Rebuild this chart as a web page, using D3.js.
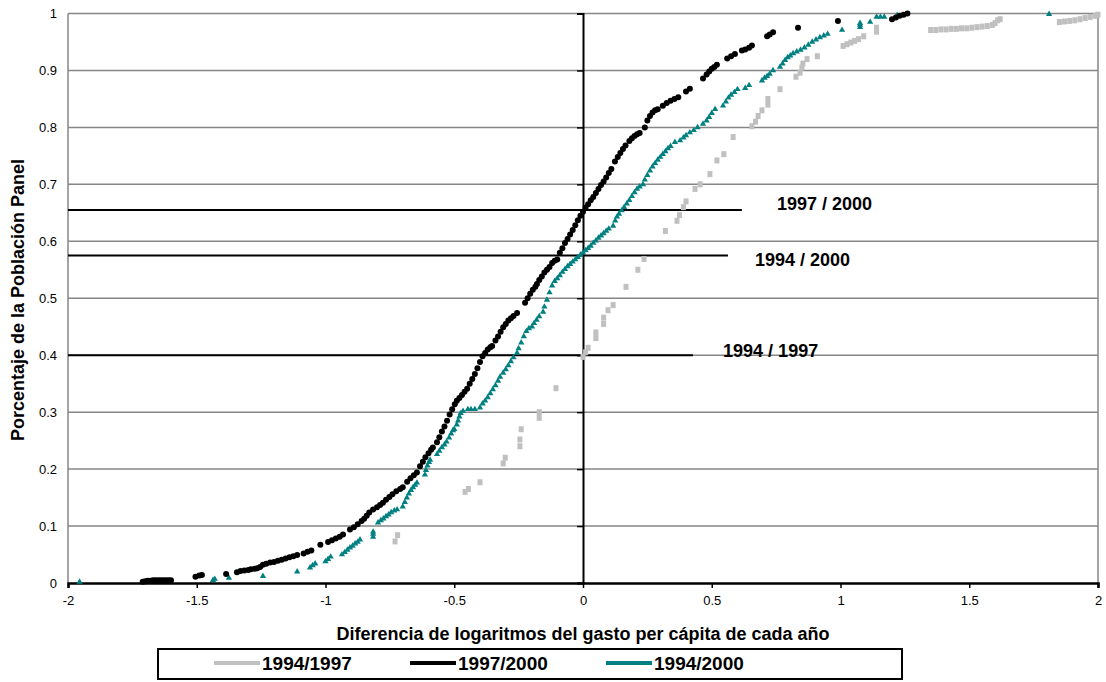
<!DOCTYPE html>
<html>
<head>
<meta charset="utf-8">
<script src="https://cdn.jsdelivr.net/npm/d3@7"></script>
<style>
  html, body { margin: 0; padding: 0; background: #fff; }
  svg { display: block; font-family: Arial, "Liberation Sans", sans-serif; }
</style>
</head>
<body>
<svg id="chart" width="1106" height="682"></svg>
<script>
// ---------- DATA ----------
const xTicks = [-2, -1.5, -1, -0.5, 0, 0.5, 1, 1.5, 2];
const xTickLabels = ["-2", "-1.5", "-1", "-0.5", "0", "0.5", "1", "1.5", "2"];
const yTicks = [0, 0.1, 0.2, 0.3, 0.4, 0.5, 0.6, 0.7, 0.8, 0.9, 1];
const yTickLabels = ["0", "0.1", "0.2", "0.3", "0.4", "0.5", "0.6", "0.7", "0.8", "0.9", "1"];
const seriesNames = ["1994/1997", "1997/2000", "1994/2000"];

// 1994/1997 (gray squares)
const s9497 = [
  [-0.73,0.073],[-0.72,0.084],
  [-0.458,0.16],[-0.445,0.165],[-0.40,0.177],
  [-0.31,0.21],[-0.302,0.22],
  [-0.245,0.24],[-0.245,0.252],[-0.24,0.27],
  [-0.17,0.29],[-0.17,0.30],
  [-0.105,0.342],
  [0.0,0.397],[0.01,0.405],[0.02,0.413],
  [0.05,0.43],[0.05,0.44],
  [0.08,0.455],[0.08,0.466],
  [0.097,0.479],[0.117,0.488],
  [0.167,0.52],[0.213,0.55],[0.237,0.569],
  [0.32,0.618],[0.365,0.636],[0.375,0.646],[0.39,0.66],[0.40,0.67],
  [0.435,0.692],[0.455,0.70],[0.493,0.718],
  [0.52,0.742],[0.547,0.753],[0.583,0.783],
  [0.656,0.802],[0.67,0.81],[0.68,0.82],[0.695,0.83],
  [0.718,0.84],[0.718,0.85],[0.765,0.867],[0.827,0.889],
  [0.843,0.896],[0.85,0.905],[0.854,0.912],[0.87,0.92],[0.91,0.925],
  [1.01,0.943],[1.025,0.946],[1.04,0.949],[1.055,0.952],[1.07,0.955],[1.09,0.96],
  [1.14,0.968],[1.14,0.975],
  [1.35,0.971],[1.37,0.971],[1.39,0.972],[1.41,0.972],[1.43,0.973],[1.45,0.973],
  [1.47,0.974],[1.49,0.974],[1.51,0.975],[1.53,0.976],[1.55,0.977],[1.57,0.978],
  [1.59,0.98],[1.60,0.983],[1.61,0.988],[1.62,0.99],
  [1.85,0.985],[1.87,0.986],[1.89,0.987],[1.91,0.988],[1.93,0.99],[1.95,0.992],
  [1.97,0.994],[1.99,0.996],[2.0,0.998]
];

// 1997/2000 (black circles)
const s9700 = [
  [-1.71,0.002],[-1.70,0.003],[-1.69,0.004],[-1.68,0.004],[-1.67,0.005],[-1.66,0.005],
  [-1.65,0.005],[-1.64,0.005],[-1.63,0.005],[-1.62,0.005],[-1.61,0.005],[-1.60,0.005],
  [-1.505,0.011],[-1.49,0.013],[-1.48,0.014],
  [-1.386,0.016],
  [-1.344,0.019],[-1.33,0.021],[-1.315,0.022],[-1.30,0.023],[-1.29,0.024],[-1.275,0.025],[-1.265,0.026],[-1.254,0.028],
  [-1.243,0.032],[-1.23,0.034],[-1.215,0.036],[-1.20,0.037],[-1.185,0.039],[-1.17,0.041],
  [-1.155,0.043],[-1.14,0.045],[-1.125,0.047],[-1.11,0.049],
  [-1.085,0.052],[-1.07,0.055],[-1.055,0.057],
  [-1.02,0.067],
  [-0.99,0.072],[-0.975,0.075],[-0.96,0.078],[-0.945,0.081],[-0.932,0.085],
  [-0.905,0.094],[-0.89,0.098],[-0.875,0.103],[-0.86,0.109],[-0.85,0.113],[-0.84,0.118],
  [-0.83,0.124],[-0.815,0.129],[-0.80,0.133],[-0.788,0.137],
  [-0.777,0.141],[-0.765,0.146],[-0.752,0.151],[-0.74,0.156],[-0.725,0.161],[-0.71,0.165],[-0.70,0.168],
  [-0.683,0.178],[-0.67,0.184],[-0.657,0.189],[-0.645,0.194],
  [-0.633,0.205],[-0.622,0.213],[-0.612,0.221],[-0.60,0.228],[-0.59,0.234],[-0.583,0.238],
  [-0.567,0.247],[-0.558,0.256],[-0.548,0.266],[-0.538,0.275],[-0.528,0.285],[-0.518,0.296],
  [-0.508,0.305],[-0.498,0.314],[-0.49,0.32],
  [-0.48,0.325],[-0.47,0.33],[-0.46,0.336],[-0.45,0.341],
  [-0.44,0.35],[-0.43,0.358],[-0.42,0.367],[-0.41,0.377],[-0.40,0.388],[-0.39,0.398],
  [-0.38,0.404],[-0.37,0.41],[-0.36,0.414],
  [-0.353,0.416],[-0.34,0.426],[-0.33,0.433],[-0.32,0.441],[-0.31,0.449],[-0.30,0.455],
  [-0.29,0.461],[-0.28,0.465],[-0.27,0.469],[-0.256,0.474],
  [-0.225,0.492],[-0.215,0.50],[-0.205,0.508],[-0.195,0.515],[-0.185,0.52],
  [-0.179,0.525],[-0.17,0.532],[-0.16,0.538],[-0.15,0.545],[-0.14,0.55],[-0.13,0.555],
  [-0.12,0.562],[-0.11,0.566],[-0.10,0.568],
  [-0.09,0.58],[-0.08,0.588],[-0.07,0.597],[-0.06,0.604],[-0.05,0.612],[-0.04,0.62],
  [-0.03,0.628],[-0.02,0.637],[-0.01,0.645],[0.0,0.652],[0.01,0.659],[0.02,0.665],
  [0.03,0.672],[0.04,0.678],[0.05,0.685],[0.06,0.692],[0.07,0.699],
  [0.08,0.705],[0.09,0.712],[0.10,0.72],[0.11,0.727],
  [0.124,0.74],[0.135,0.748],[0.145,0.755],[0.155,0.762],[0.165,0.768],
  [0.18,0.776],[0.19,0.781],[0.20,0.785],[0.21,0.788],[0.22,0.79],
  [0.24,0.80],[0.25,0.812],[0.26,0.82],[0.27,0.826],[0.28,0.83],[0.29,0.832],
  [0.31,0.838],[0.325,0.843],[0.34,0.847],[0.355,0.85],[0.37,0.853],
  [0.40,0.863],[0.415,0.868],
  [0.466,0.886],[0.48,0.893],[0.49,0.898],[0.50,0.903],[0.51,0.906],[0.52,0.91],
  [0.56,0.921],[0.575,0.925],[0.59,0.929],
  [0.617,0.935],[0.63,0.937],[0.645,0.94],[0.656,0.944],
  [0.715,0.96],[0.725,0.963],[0.738,0.967],
  [0.835,0.975],
  [0.99,0.987],
  [1.2,0.99],[1.215,0.993],[1.23,0.996],[1.245,0.998],[1.26,1.0]
];

// 1994/2000 (teal triangles)
const s9400 = [
  [-1.955,0.002],
  [-1.437,0.005],[-1.43,0.007],
  [-1.375,0.009],
  [-1.243,0.012],
  [-1.11,0.02],
  [-1.06,0.027],[-1.05,0.031],[-1.04,0.034],
  [-1.0,0.038],[-0.99,0.042],[-0.98,0.046],
  [-0.936,0.05],[-0.925,0.054],[-0.915,0.058],[-0.905,0.062],[-0.895,0.065],[-0.885,0.069],[-0.875,0.072],[-0.866,0.076],
  [-0.815,0.081],[-0.815,0.086],[-0.815,0.09],
  [-0.796,0.106],[-0.785,0.11],[-0.775,0.113],[-0.765,0.117],[-0.755,0.12],[-0.745,0.124],[-0.733,0.127],[-0.722,0.129],
  [-0.70,0.134],[-0.692,0.142],[-0.684,0.15],[-0.676,0.157],[-0.668,0.163],[-0.66,0.168],[-0.652,0.172],[-0.645,0.176],
  [-0.614,0.19],[-0.61,0.198],[-0.604,0.206],[-0.598,0.212],[-0.594,0.216],
  [-0.567,0.226],[-0.558,0.232],[-0.548,0.238],[-0.538,0.243],[-0.53,0.248],[-0.52,0.255],[-0.512,0.262],[-0.505,0.268],
  [-0.50,0.27],[-0.49,0.278],[-0.485,0.285],[-0.48,0.292],[-0.475,0.298],[-0.466,0.302],
  [-0.447,0.305],[-0.435,0.305],[-0.42,0.305],[-0.40,0.308],
  [-0.39,0.315],[-0.38,0.32],[-0.37,0.326],[-0.36,0.333],[-0.35,0.34],[-0.34,0.347],[-0.33,0.355],[-0.322,0.362],
  [-0.31,0.369],[-0.30,0.375],[-0.29,0.382],[-0.28,0.389],[-0.27,0.396],[-0.256,0.404],
  [-0.25,0.412],[-0.24,0.422],[-0.23,0.433],[-0.22,0.442],[-0.21,0.447],[-0.198,0.45],
  [-0.19,0.456],[-0.18,0.462],[-0.17,0.468],[-0.155,0.476],
  [-0.15,0.485],[-0.14,0.497],[-0.13,0.51],[-0.12,0.522],
  [-0.11,0.53],[-0.10,0.535],[-0.09,0.54],[-0.08,0.546],[-0.07,0.551],[-0.06,0.556],[-0.05,0.56],
  [-0.04,0.564],[-0.03,0.568],[-0.02,0.572],[-0.01,0.576],[0.0,0.58],
  [0.01,0.584],[0.02,0.588],[0.03,0.592],[0.04,0.597],[0.05,0.601],[0.06,0.606],[0.07,0.61],
  [0.08,0.614],[0.09,0.618],[0.10,0.622],[0.117,0.627],
  [0.125,0.636],[0.132,0.643],
  [0.14,0.648],[0.15,0.654],[0.16,0.66],[0.17,0.666],[0.18,0.672],[0.19,0.679],[0.20,0.686],[0.21,0.692],[0.22,0.696],[0.233,0.70],
  [0.24,0.708],[0.25,0.716],[0.26,0.724],[0.27,0.731],[0.28,0.737],[0.29,0.743],[0.30,0.748],
  [0.31,0.753],[0.32,0.758],[0.33,0.763],[0.34,0.767],[0.357,0.774],
  [0.377,0.777],[0.39,0.782],[0.40,0.786],[0.415,0.791],[0.43,0.795],[0.445,0.8],[0.466,0.806],
  [0.48,0.812],[0.49,0.818],[0.50,0.825],[0.513,0.832],
  [0.544,0.838],[0.555,0.845],[0.565,0.852],[0.575,0.857],[0.588,0.862],[0.60,0.867],
  [0.63,0.869],[0.645,0.874],
  [0.695,0.882],[0.705,0.887],[0.715,0.89],[0.725,0.894],[0.738,0.9],
  [0.765,0.906],[0.775,0.912],[0.785,0.918],[0.795,0.923],[0.805,0.926],[0.816,0.93],
  [0.83,0.933],[0.845,0.936],[0.86,0.94],[0.875,0.945],[0.89,0.95],[0.905,0.954],[0.92,0.958],[0.935,0.961],[0.95,0.964],
  [1.006,0.971],
  [1.076,0.976],[1.076,0.98],[1.076,0.983],
  [1.115,0.985],
  [1.14,0.994],[1.155,0.994],[1.17,0.994],
  [1.22,0.997],
  [1.81,0.999]
];

// Reference lines and their labels
const refY = [0.655, 0.575, 0.40];
const refXEnd = [0.617, 0.563, 0.427];
const refLabels = ["1997 / 2000", "1994 / 2000", "1994 / 1997"];
const refLabelX = [0.753, 0.668, 0.544];
const refLabelY = [0.655, 0.557, 0.397];

// ---------- CHART ----------
const svg = d3.select("#chart");
const x = d3.scaleLinear().domain([-2, 2]).range([68, 1098]);
const y = d3.scaleLinear().domain([0, 1]).range([583, 13.5]);

const colGray = "#c0c0c0", colBlack = "#000000", colTeal = "#008080", colGrid = "#868686";

// gridlines
svg.append("g").selectAll("line").data(yTicks.filter(d => d > 0)).join("line")
  .attr("x1", x(-2)).attr("x2", x(2))
  .attr("y1", d => y(d)).attr("y2", d => y(d))
  .attr("stroke", colGrid).attr("stroke-width", 1.5);
svg.append("line").attr("x1", x(-2)).attr("x2", x(-2)).attr("y1", y(1)).attr("y2", y(0))
  .attr("stroke", colGrid).attr("stroke-width", 1.5);
svg.append("line").attr("x1", x(2)).attr("x2", x(2)).attr("y1", y(1)).attr("y2", y(0))
  .attr("stroke", colGrid).attr("stroke-width", 1.5);

// reference lines
svg.append("g").selectAll("line").data(refY).join("line")
  .attr("x1", x(-2)).attr("x2", (d, i) => x(refXEnd[i]))
  .attr("y1", d => y(d)).attr("y2", d => y(d))
  .attr("stroke", "#000").attr("stroke-width", 2);

// vertical axis at x=0
const yAxis = d3.axisLeft(y).tickValues(yTicks).tickSize(6).tickFormat("");
const gy = svg.append("g").attr("transform", `translate(${x(0)},0)`).call(yAxis);
gy.select(".domain").attr("stroke", "#000").attr("stroke-width", 2);
gy.selectAll(".tick line").attr("stroke", "#000").attr("stroke-width", 1.5);

// y tick labels at the left
svg.append("g").selectAll("text").data(yTicks).join("text")
  .attr("x", 57).attr("y", d => y(d)).attr("dy", "0.35em")
  .attr("text-anchor", "end").attr("font-size", 13).attr("fill", "#000")
  .text((d, i) => yTickLabels[i]);

// x axis
const xAxis = d3.axisBottom(x).tickValues(xTicks).tickSize(5).tickPadding(8)
  .tickFormat((d, i) => xTickLabels[i]);
const gx = svg.append("g").attr("transform", `translate(0,${y(0)})`).call(xAxis);
gx.select(".domain").attr("stroke", "#000").attr("stroke-width", 2.5);
gx.selectAll(".tick line").attr("stroke", "#000").attr("stroke-width", 1.5);
gx.selectAll(".tick text").attr("font-size", 13).attr("font-family", "Arial, 'Liberation Sans', sans-serif").attr("fill", "#000");

// series markers
svg.append("g").selectAll("rect").data(s9497).join("rect")
  .attr("x", d => x(d[0]) - 2.5).attr("y", d => y(d[1]) - 3)
  .attr("width", 5).attr("height", 6).attr("fill", colGray);

const tri = d3.symbol().type(d3.symbolTriangle).size(17);
svg.append("g").selectAll("path").data(s9400).join("path")
  .attr("d", tri)
  .attr("transform", d => `translate(${x(d[0])},${y(d[1])})`)
  .attr("fill", colTeal);

svg.append("g").selectAll("circle").data(s9700).join("circle")
  .attr("cx", d => x(d[0])).attr("cy", d => y(d[1])).attr("r", 3)
  .attr("fill", colBlack);

// reference labels
svg.append("g").selectAll("text").data(refLabels).join("text")
  .attr("x", (d, i) => x(refLabelX[i])).attr("y", (d, i) => y(refLabelY[i]))
  .attr("font-size", 18).attr("font-weight", "bold").attr("fill", "#000")
  .text(d => d);

// axis titles
svg.append("text").attr("x", 583).attr("y", 640).attr("text-anchor", "middle")
  .attr("font-size", 18).attr("font-weight", "bold")
  .text("Diferencia de logaritmos del gasto per cápita de cada año");
svg.append("text").attr("transform", "translate(24,300) rotate(-90)").attr("text-anchor", "middle")
  .attr("font-size", 18).attr("font-weight", "bold")
  .text("Porcentaje de la Población Panel");

// legend
const lg = svg.append("g");
lg.append("rect").attr("x", 158).attr("y", 649).attr("width", 744).attr("height", 30)
  .attr("fill", "#fff").attr("stroke", "#000").attr("stroke-width", 2);
const legendColors = [colGray, colBlack, colTeal];
const legendX = [214, 410, 606];
seriesNames.forEach((name, i) => {
  lg.append("line").attr("x1", legendX[i]).attr("x2", legendX[i] + 46)
    .attr("y1", 663).attr("y2", 663).attr("stroke", legendColors[i]).attr("stroke-width", 4);
  lg.append("text").attr("x", legendX[i] + 48).attr("y", 670)
    .attr("font-size", 19).attr("font-weight", "bold").text(name);
});
</script>
</body>
</html>
